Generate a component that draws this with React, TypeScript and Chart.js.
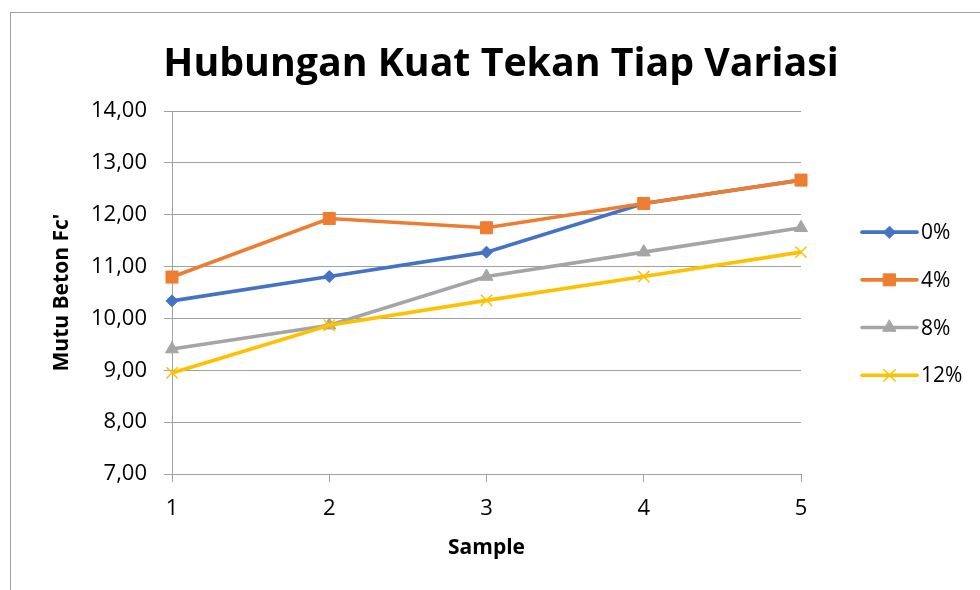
import React, { useEffect, useRef } from 'react';
import { Chart, registerables } from 'chart.js';
import { drawPoint } from 'chart.js/helpers';

Chart.register(...registerables);

// ---- data ----
const categories = ['1', '2', '3', '4', '5'];
const seriesNames = ['0%', '4%', '8%', '12%'];
const values0 = [10.34, 10.81, 11.28, 12.22, 12.67];
const values4 = [10.8, 11.93, 11.75, 12.22, 12.67];
const values8 = [9.41, 9.87, 10.81, 11.28, 11.75];
const values12 = [8.95, 9.87, 10.35, 10.81, 11.28];
const yMin = 7;
const yMax = 14;
const yStep = 1;
const titleText = 'Hubungan Kuat Tekan Tiap Variasi';
const xTitle = 'Sample';
const yTitle = "Mutu Beton Fc'";

const FONT = "'Open Sans', 'Noto Sans', sans-serif";
const colors = ['#4472C4', '#ED7D31', '#A5A5A5', '#FFC000'];
const pointStyles: any[] = ['rectRot', 'rect', 'triangle', 'crossRot'];
const pointRadii = [6, 8.5, 7.5, 8];
const seriesValues = [values0, values4, values8, values12];

const sideLegend = {
  id: 'sideLegend',
  afterDraw(chart: any) {
    const ctx = chart.ctx;
    const area = chart.chartArea;
    const x0 = area.right + 61;
    const x1 = area.right + 116;
    const tx = area.right + 120;
    const y0 = area.top + 121;
    const gap = 47.7;
    ctx.save();
    chart.data.datasets.forEach((ds: any, i: number) => {
      const y = y0 + i * gap;
      ctx.beginPath();
      ctx.strokeStyle = ds.borderColor;
      ctx.lineWidth = ds.borderWidth;
      ctx.lineCap = 'round';
      ctx.moveTo(x0, y);
      ctx.lineTo(x1, y);
      ctx.stroke();
      ctx.fillStyle = ds.pointBackgroundColor;
      ctx.strokeStyle = ds.pointBorderColor;
      ctx.lineWidth = ds.pointBorderWidth;
      drawPoint(ctx, {
        pointStyle: ds.pointStyle,
        radius: ds.pointRadius,
        rotation: 0,
        borderWidth: ds.pointBorderWidth,
      } as any, (x0 + x1) / 2, y);
      ctx.fillStyle = '#000';
      ctx.font = `21px ${FONT}`;
      ctx.textBaseline = 'middle';
      ctx.textAlign = 'left';
      ctx.fillText(ds.label, tx, y + 1);
    });
    ctx.restore();
  },
};

export default function App() {
  const canvasRef = useRef<HTMLCanvasElement | null>(null);

  useEffect(() => {
    const canvas = canvasRef.current;
    if (!canvas) return;
    const chart = new Chart(canvas, {
      type: 'line',
      data: {
        labels: categories,
        datasets: seriesNames.map((name, i) => ({
          label: name,
          data: seriesValues[i],
          order: seriesNames.length - 1 - i,
          borderColor: colors[i],
          backgroundColor: colors[i],
          borderWidth: 3.6,
          pointStyle: pointStyles[i],
          pointRadius: pointRadii[i],
          pointHoverRadius: pointRadii[i],
          pointBackgroundColor: colors[i],
          pointBorderColor: colors[i],
          pointBorderWidth: i === 3 ? 1.5 : 1,
          tension: 0,
          fill: false,
          yAxisID: 'y',
        })),
      },
      options: {
        responsive: false,
        animation: false,
        devicePixelRatio: 1,
        layout: { padding: { left: 22, right: 0, top: 0, bottom: 0 } },
        plugins: {
          legend: { display: false },
          tooltip: { enabled: false },
          title: {
            display: true,
            text: titleText,
            color: '#000',
            font: { family: FONT, size: 39.3, weight: 'bold' },
            padding: { top: 41, bottom: 23 },
          },
        },
        scales: {
          x: {
            type: 'category',
            offset: false,
            grid: {
              display: true,
              drawOnChartArea: false,
              drawTicks: true,
              tickLength: 8,
              color: '#a0a0a0',
            },
            border: { display: true, color: '#a0a0a0', width: 1 },
            ticks: {
              color: '#000',
              font: { family: FONT, size: 22 },
              padding: 14,
              maxRotation: 0,
            },
            title: {
              display: true,
              text: xTitle,
              color: '#000',
              font: { family: FONT, size: 21, weight: 'bold' },
              padding: { top: 0, bottom: 29 },
            },
            afterFit: (scale: any) => {
              scale.height = 116;
            },
          },
          y: {
            min: yMin,
            max: yMax,
            position: 'left',
            grid: {
              display: true,
              drawOnChartArea: true,
              drawTicks: true,
              tickLength: 8,
              color: '#a0a0a0',
            },
            border: { display: true, color: '#a0a0a0', width: 1 },
            ticks: {
              stepSize: yStep,
              color: '#000',
              font: { family: FONT, size: 22 },
              padding: 17,
              callback: (v: any) => Number(v).toFixed(2).replace('.', ','),
            },
            title: {
              display: true,
              text: yTitle,
              color: '#000',
              font: { family: FONT, size: 21, weight: 'bold' },
              padding: { top: 27, bottom: 0 },
            },
            afterFit: (scale: any) => {
              scale.width = 150;
            },
          },
          legendSpace: {
            type: 'linear',
            position: 'right',
            display: true,
            min: yMin,
            max: yMax,
            grid: { display: false, drawOnChartArea: false, drawTicks: false },
            border: { display: false },
            ticks: { display: false },
            title: { display: false },
            afterFit: (scale: any) => {
              scale.width = 179;
            },
          },
        },
      },
      plugins: [sideLegend],
    });
    return () => chart.destroy();
  }, []);

  return (
    <div
      style={{
        position: 'absolute',
        left: 0,
        top: 0,
        width: 980,
        height: 590,
        overflow: 'hidden',
        background: '#fff',
      }}
    >
      <div
        style={{
          position: 'absolute',
          left: 10,
          top: 12,
          width: 1100,
          height: 1100,
          border: '1px solid #a0a0a0',
          boxSizing: 'border-box',
        }}
      />
      <canvas
        ref={canvasRef}
        width={980}
        height={590}
        style={{ position: 'absolute', left: 0, top: 0, width: 980, height: 590 }}
      />
    </div>
  );
}
